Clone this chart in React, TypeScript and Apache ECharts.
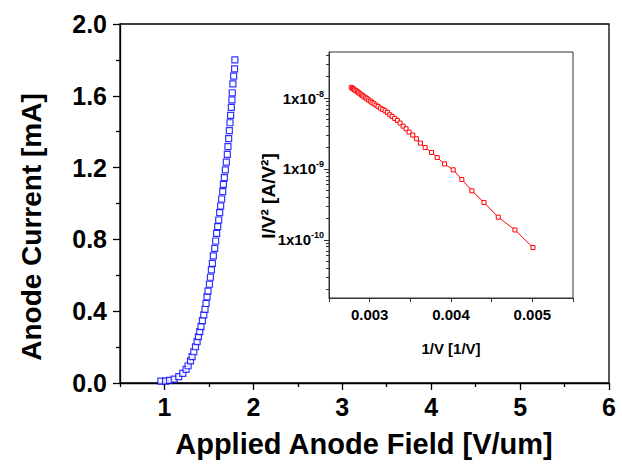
import React, { useEffect, useRef } from 'react';
import * as echarts from 'echarts';

// Main plot: applied anode field [V/um] vs anode current [mA]
const fieldX = [0.960, 1.012, 1.057, 1.109, 1.161, 1.206, 1.243, 1.266, 1.293, 1.311, 1.330, 1.349, 1.367, 1.382, 1.397, 1.411, 1.427, 1.442, 1.456, 1.468, 1.479, 1.490, 1.506, 1.517, 1.528, 1.539, 1.550, 1.565, 1.576, 1.587, 1.599, 1.610, 1.621, 1.632, 1.643, 1.655, 1.663, 1.674, 1.685, 1.696, 1.707, 1.714, 1.722, 1.730, 1.737, 1.744, 1.752, 1.759, 1.763, 1.770, 1.778, 1.789, 1.792];
const currentY = [0.011, 0.011, 0.015, 0.022, 0.035, 0.054, 0.076, 0.096, 0.123, 0.147, 0.174, 0.202, 0.230, 0.258, 0.286, 0.314, 0.347, 0.379, 0.410, 0.443, 0.480, 0.512, 0.550, 0.589, 0.630, 0.666, 0.708, 0.750, 0.791, 0.834, 0.871, 0.908, 0.949, 0.986, 1.025, 1.066, 1.106, 1.144, 1.187, 1.230, 1.274, 1.317, 1.361, 1.406, 1.450, 1.491, 1.536, 1.577, 1.617, 1.666, 1.710, 1.750, 1.800];

// Inset: 1/V vs I/V^2
const invV = [0.002774, 0.002791, 0.002803, 0.002815, 0.002832, 0.002848, 0.002864, 0.002881, 0.002897, 0.002914, 0.002930, 0.002951, 0.002967, 0.002988, 0.003008, 0.003029, 0.003053, 0.003078, 0.003103, 0.003131, 0.003160, 0.003189, 0.003218, 0.003246, 0.003275, 0.003308, 0.003341, 0.003374, 0.003411, 0.003448, 0.003485, 0.003530, 0.003575, 0.003624, 0.003682, 0.003760, 0.003830, 0.003920, 0.004027, 0.004133, 0.004257, 0.004405, 0.004581, 0.004786, 0.005008];
const ivv = [1.416e-8, 1.367e-8, 1.34e-8, 1.30e-8, 1.27e-8, 1.23e-8, 1.19e-8, 1.15e-8, 1.11e-8, 1.08e-8, 1.04e-8, 1.01e-8, 9.8e-9, 9.38e-9, 9.07e-9, 8.69e-9, 8.32e-9, 7.96e-9, 7.62e-9, 7.22e-9, 6.92e-9, 6.62e-9, 6.28e-9, 5.82e-9, 5.51e-9, 5.16e-9, 4.84e-9, 4.44e-9, 4.02e-9, 3.69e-9, 3.31e-9, 3.01e-9, 2.67e-9, 2.32e-9, 2.01e-9, 1.71e-9, 1.45e-9, 1.18e-9, 9.73e-10, 7.11e-10, 4.92e-10, 3.37e-10, 2.09e-10, 1.38e-10, 7.8e-11];

// Tick values
const mainXMajor = [1, 2, 3, 4, 5, 6];
const mainXMinor = [0.5, 1.5, 2.5, 3.5, 4.5, 5.5];
const insetXLabels = [0.003, 0.004, 0.005];
const insetYMinExp = -10.82;
const insetYMaxExp = -7.35;
const insetYMinorExps: number[] = [];
for (let n = -11; n <= -8; n++) {
  for (let k = 2; k <= 9; k++) {
    const e = Math.log10(k) + n;
    if (e > insetYMinExp && e < insetYMaxExp) insetYMinorExps.push(e);
  }
}

const FONT = '"Liberation Sans", Arial, sans-serif';

export default function App() {
  const ref = useRef<HTMLDivElement>(null);
  useEffect(() => {
    document.body.style.margin = '0';
    if (!ref.current) return;
    const chart = echarts.init(ref.current, null, { renderer: 'svg' });
    const mainData = fieldX.map((x, i) => [x, currentY[i]]);
    const insetData = invV.map((x, i) => [x, ivv[i]]);
    const black = '#000';
    chart.setOption({
      animation: false,
      backgroundColor: '#fff',
      textStyle: { fontFamily: FONT },
      grid: [
        { left: 120, top: 24, right: 13, bottom: 86, show: true, borderColor: black, borderWidth: 1.3, backgroundColor: 'transparent' },
        { left: 329, top: 52, right: 49, bottom: 171, show: true, borderColor: '#333', borderWidth: 1, backgroundColor: '#fff' },
      ],
      xAxis: [
        {
          type: 'value', gridIndex: 0, min: 0.5, max: 6, interval: 0.5, position: 'bottom',
          axisLine: { show: true, lineStyle: { color: black, width: 1.3 } },
          axisTick: { show: true, customValues: mainXMajor, length: 7, lineStyle: { color: black, width: 1.3 } },
          axisLabel: { customValues: mainXMajor, fontSize: 25, fontWeight: 'bold', color: black, margin: 11, fontFamily: FONT },
          splitLine: { show: false },
        },
        {
          type: 'value', gridIndex: 0, min: 0.5, max: 6, interval: 0.5, position: 'bottom',
          axisLine: { show: false },
          axisTick: { show: true, customValues: mainXMinor, length: 4, lineStyle: { color: black, width: 1.3 } },
          axisLabel: { show: false },
          splitLine: { show: false },
        },
        {
          type: 'value', gridIndex: 1, min: 0.0025, max: 0.0055, interval: 0.0005, position: 'bottom',
          axisLine: { show: true, lineStyle: { color: '#333', width: 1 } },
          axisTick: { show: true, length: 4, lineStyle: { color: '#333', width: 1 } },
          axisLabel: {
            fontSize: 15, fontWeight: 'bold', color: black, margin: 9, fontFamily: FONT,
            formatter: (v: number) => {
              const hit = insetXLabels.find((t) => Math.abs(t - v) < 1e-7);
              return hit !== undefined ? hit.toFixed(3) : '';
            },
          },
          splitLine: { show: false },
        },
      ],
      yAxis: [
        {
          type: 'value', gridIndex: 0, min: 0, max: 2, interval: 0.4, position: 'left',
          axisLine: { show: true, lineStyle: { color: black, width: 1.3 } },
          axisTick: { show: true, length: 7, lineStyle: { color: black, width: 1.3 } },
          minorTick: { show: true, splitNumber: 2, length: 4, lineStyle: { color: black, width: 1.3 } },
          axisLabel: { fontSize: 25, fontWeight: 'bold', color: black, margin: 13, fontFamily: FONT, formatter: (v: number) => v.toFixed(1) },
          splitLine: { show: false },
          minorSplitLine: { show: false },
        },
        {
          type: 'log', logBase: 10, gridIndex: 1, position: 'left', min: Math.pow(10, insetYMinExp), max: Math.pow(10, insetYMaxExp),
          axisLine: { show: true, lineStyle: { color: '#333', width: 1 } },
          axisTick: { show: true, length: 5, lineStyle: { color: '#333', width: 1 } },
          axisLabel: {
            showMinLabel: false, showMaxLabel: false, margin: 5, color: black, fontFamily: FONT,
            fontSize: 15, fontWeight: 'bold',
            formatter: (v: number) => {
              const e = Math.log10(v);
              if (Math.abs(e - Math.round(e)) > 0.01) return '';
              return '{b|1x10}{s|' + Math.round(e) + '}';
            },
            rich: {
              b: { fontSize: 15, fontWeight: 'bold', color: black, fontFamily: FONT },
              s: { fontSize: 9, fontWeight: 'bold', color: black, fontFamily: FONT, padding: [0, 0, 9, 0] },
            },
          },
          splitLine: { show: false },
        },
        {
          type: 'value', gridIndex: 1, position: 'left', offset: 0, min: insetYMinExp, max: insetYMaxExp,
          axisLine: { show: false },
          axisTick: { show: true, customValues: insetYMinorExps, length: 3, lineStyle: { color: '#333', width: 1 } },
          axisLabel: { show: false },
          splitLine: { show: false },
        },
      ],
      series: [
        {
          type: 'scatter', xAxisIndex: 0, yAxisIndex: 0, data: mainData,
          symbol: 'rect', symbolSize: 6,
          itemStyle: { color: '#fff', borderColor: '#0000ff', borderWidth: 1.2 },
        },
        {
          type: 'line', xAxisIndex: 2, yAxisIndex: 1, data: insetData,
          symbol: 'rect', symbolSize: 4, showSymbol: true, showAllSymbol: true,
          lineStyle: { color: '#ff0000', width: 1 },
          itemStyle: { color: '#fff', borderColor: '#ff0000', borderWidth: 1 },
        },
      ],
      graphic: [
        {
          type: 'text', x: 364, y: 444,
          style: { text: 'Applied Anode Field [V/um]', fontSize: 29, fontWeight: 'bold', fill: black, fontFamily: FONT, textAlign: 'center', textVerticalAlign: 'middle' },
        },
        {
          type: 'text', x: 31, y: 227, rotation: Math.PI / 2,
          style: { text: 'Anode Current [mA]', fontSize: 28, fontWeight: 'bold', fill: black, fontFamily: FONT, textAlign: 'center', textVerticalAlign: 'middle' },
        },
        {
          type: 'text', x: 451, y: 348,
          style: { text: '1/V [1/V]', fontSize: 15, fontWeight: 'bold', fill: black, fontFamily: FONT, textAlign: 'center', textVerticalAlign: 'middle' },
        },
        {
          type: 'text', x: 268, y: 196, rotation: Math.PI / 2,
          style: { text: 'I/V\u00B2 [A/V\u00B2]', fontSize: 19, fontWeight: 'bold', fill: black, fontFamily: FONT, textAlign: 'center', textVerticalAlign: 'middle' },
        },
      ],
    });
    return () => chart.dispose();
  }, []);
  return <div ref={ref} style={{ width: 622, height: 469 }} />;
}
